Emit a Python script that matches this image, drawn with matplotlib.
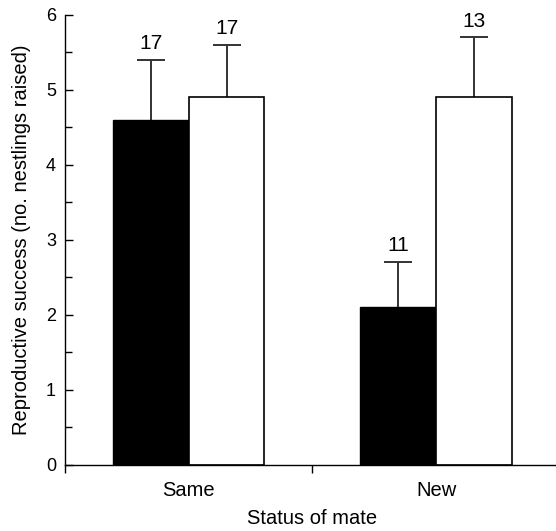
import matplotlib.pyplot as plt
import numpy as np

plt.rcParams['font.family'] = ['Liberation Sans', 'DejaVu Sans']

# data
groups = ['Same', 'New']
black_vals = [4.6, 2.1]
black_err = [0.8, 0.6]
black_n = [17, 11]
white_vals = [4.9, 4.9]
white_err = [0.7, 0.8]
white_n = [17, 13]

fig = plt.figure(figsize=(5.56, 5.31), dpi=100)
ax = fig.add_axes([0.117, 0.1252, 0.8897, 0.8466])

x = np.arange(len(groups))
w = 0.306

ax.bar(x - w / 2, black_vals, w, color='black', edgecolor='black', linewidth=1, zorder=2)
ax.bar(x + w / 2, white_vals, w, color='white', edgecolor='black', linewidth=1.2, zorder=2)

# upper-only error bars, lower cap hidden so it does not sit on the bar top
for xs, vals, errs in [(x - w / 2, black_vals, black_err), (x + w / 2, white_vals, white_err)]:
    eb = ax.errorbar(xs, vals, yerr=[np.zeros(2), errs], fmt='none', ecolor='#333333',
                     elinewidth=1.4, capsize=10, capthick=1.4, zorder=1)
    eb[1][0].set_visible(False)

# sample sizes above the error bars
for xi, v, e, n in zip(x - w / 2, black_vals, black_err, black_n):
    ax.annotate(str(n), (xi, v + e), xytext=(0, 5), textcoords='offset points',
                ha='center', va='bottom', fontsize=15)
for xi, v, e, n in zip(x + w / 2, white_vals, white_err, white_n):
    ax.annotate(str(n), (xi, v + e), xytext=(0, 5), textcoords='offset points',
                ha='center', va='bottom', fontsize=15)

ax.set_xlim(-0.5, 1.5)
ax.set_ylim(0, 6)

ax.spines['top'].set_visible(False)
ax.spines['right'].set_visible(False)
ax.spines['left'].set_linewidth(1)
ax.spines['bottom'].set_linewidth(1)

ax.set_yticks(range(7))
ax.set_yticks(np.arange(0.5, 6, 1), minor=True)
ax.tick_params(axis='y', which='major', direction='in', length=6, width=1, labelsize=13, pad=6.5)
ax.tick_params(axis='y', which='minor', direction='in', length=5, width=1)

ax.set_xticks([-0.5, 0.5, 1.5])
ax.set_xticklabels([])
ax.set_xticks(x, minor=True)
ax.set_xticklabels(groups, minor=True)
ax.tick_params(axis='x', which='major', direction='out', length=6, width=1)
ax.tick_params(axis='x', which='minor', length=0, labelsize=14.5, pad=12)

ax.set_xlabel('Status of mate', fontsize=14.5, labelpad=6)
ax.set_ylabel('Reproductive success (no. nestlings raised)', fontsize=14.5, labelpad=11)

fig.savefig('out.png', dpi=100)
